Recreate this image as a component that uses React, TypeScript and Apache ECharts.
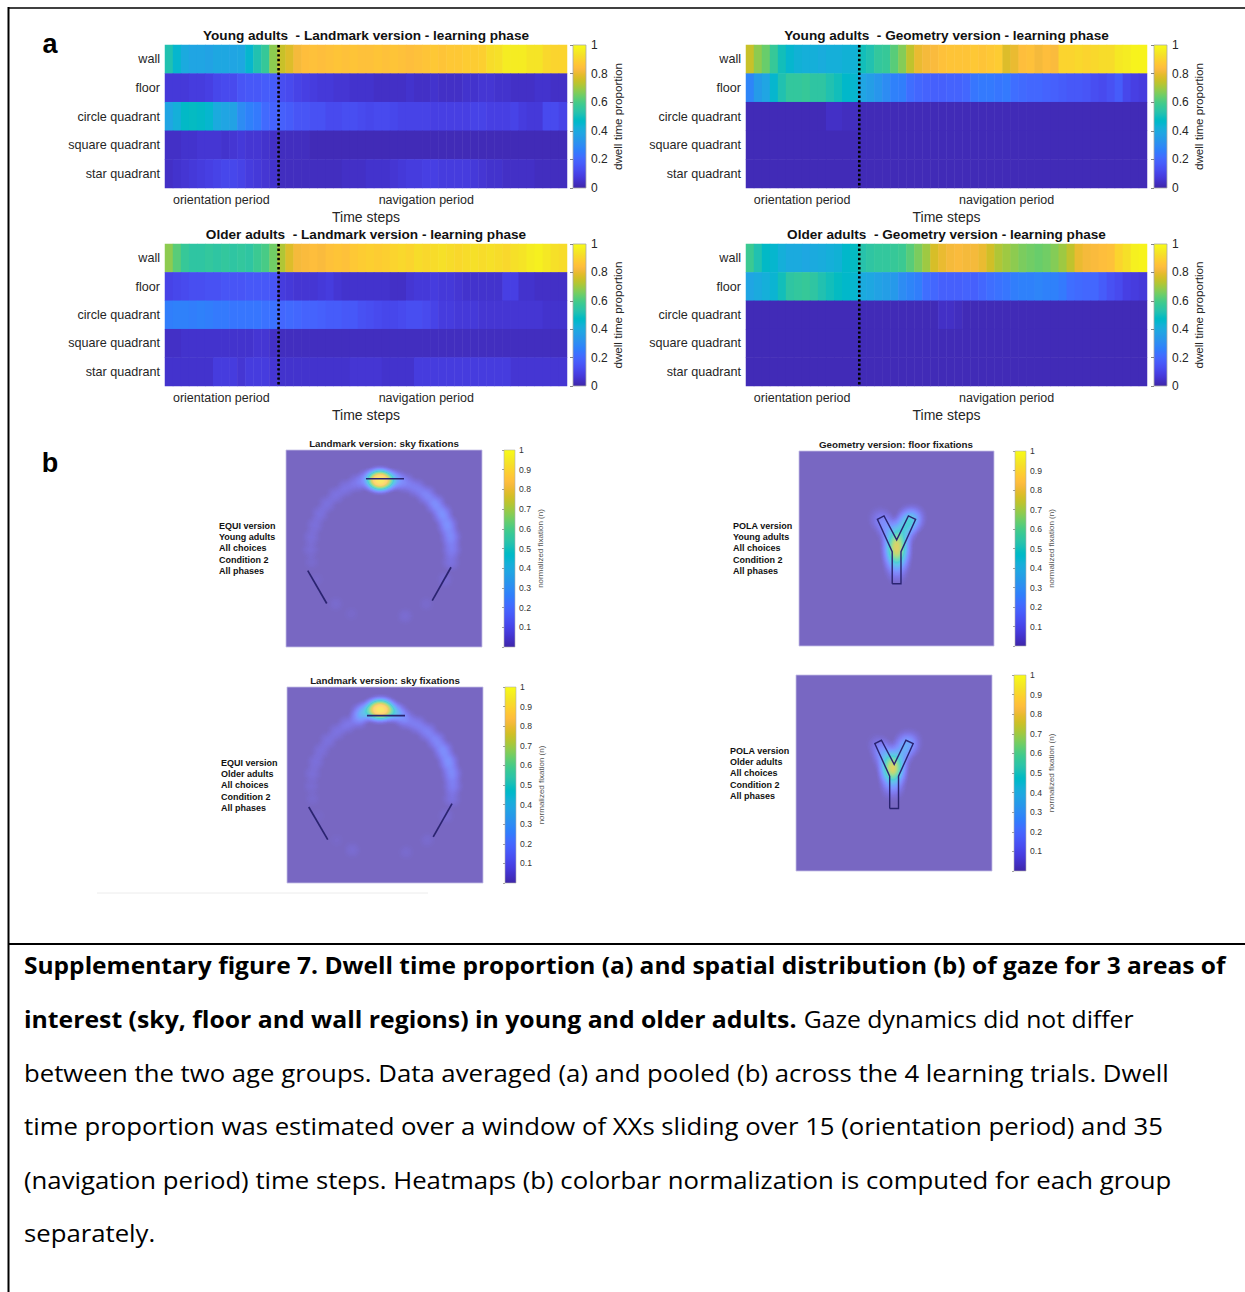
import React, { useEffect, useRef } from 'react';
import * as echarts from 'echarts';

// ---------------- DATA ----------------
const ROW_NAMES = ['wall', 'floor', 'circle quadrant', 'square quadrant', 'star quadrant'];
const ORIENT_STEPS = 14; // cells before the dashed separator
const TIME_STEPS = ['1','2','3','4','5','6','7','8','9','10','11','12','13','14','15','16','17','18','19','20','21','22','23','24','25','26','27','28','29','30','31','32','33','34','35','36','37','38','39','40','41','42','43','44','45','46','47','48','49','50'];

// Young adults - Landmark version
const ylWall = [0.52,0.45,0.40,0.38,0.38,0.37,0.39,0.39,0.38,0.39,0.45,0.52,0.57,0.68, 0.75,0.78,0.82,0.84,0.85,0.84,0.85,0.86,0.85,0.86, 0.85,0.85,0.86,0.85,0.86,0.85,0.84,0.85,0.86,0.87, 0.86,0.87,0.87,0.88,0.88,0.89,0.92,0.93,0.96,0.96,0.96,0.94,0.94,0.91,0.90,0.90];
const ylFloor = [0.07,0.07,0.07,0.08,0.08,0.09,0.11,0.12,0.12,0.15,0.16,0.16,0.17,0.17, 0.13,0.12,0.10,0.09,0.08,0.07,0.07,0.06,0.06,0.05, 0.05,0.05,0.04,0.04,0.04,0.04,0.05,0.04,0.04,0.05, 0.04,0.04,0.04,0.05,0.05,0.06,0.06,0.05,0.05,0.04, 0.04,0.04,0.05,0.05,0.04,0.04];
const ylCircle = [0.38,0.42,0.47,0.48,0.47,0.45,0.40,0.38,0.37,0.30,0.27,0.25,0.21,0.19, 0.18,0.17,0.15,0.15,0.14,0.14,0.12,0.12,0.13,0.13, 0.12,0.11,0.12,0.12,0.11,0.10,0.10,0.10,0.10,0.09, 0.09,0.09,0.09,0.09,0.10,0.10,0.09,0.09,0.09,0.10, 0.08,0.07,0.07,0.12,0.12,0.10];
const ylSquare = [0.04,0.04,0.05,0.05,0.06,0.06,0.06,0.05,0.06,0.07,0.06,0.06,0.05,0.04, 0.03,0.03,0.03,0.03,0.02,0.02,0.02,0.02,0.02,0.02, 0.02,0.02,0.02,0.02,0.02,0.02,0.02,0.02,0.02,0.02, 0.02,0.02,0.02,0.02,0.02,0.02,0.02,0.02,0.02,0.02, 0.02,0.02,0.02,0.02,0.02,0.02];
const ylStar = [0.04,0.05,0.06,0.07,0.08,0.09,0.10,0.11,0.11,0.10,0.08,0.07,0.06,0.05, 0.03,0.03,0.03,0.03,0.03,0.03,0.03,0.03,0.04,0.04, 0.04,0.05,0.05,0.05,0.06,0.07,0.08,0.08,0.09,0.09, 0.08,0.08,0.08,0.08,0.07,0.06,0.05,0.05,0.04,0.04, 0.04,0.04,0.03,0.03,0.03,0.03];

// Young adults - Geometry version
const ygWall = [0.75,0.68,0.64,0.57,0.50,0.45,0.43,0.42,0.42,0.41,0.42,0.42,0.43,0.43, 0.50,0.52,0.56,0.57,0.62,0.67,0.74,0.80,0.82,0.83, 0.85,0.86,0.86,0.86,0.87,0.86,0.87,0.88,0.78,0.80, 0.84,0.85,0.82,0.84,0.83,0.90,0.90,0.91,0.90,0.91, 0.92,0.92,0.95,0.96,0.98,0.98];
const ygFloor = [0.28,0.35,0.38,0.45,0.52,0.56,0.56,0.57,0.55,0.55,0.52,0.50,0.46,0.45, 0.38,0.36,0.33,0.30,0.27,0.26,0.22,0.20,0.19,0.18, 0.18,0.19,0.19,0.20,0.24,0.25,0.25,0.24,0.25,0.22, 0.21,0.20,0.20,0.19,0.18,0.17,0.16,0.16,0.15,0.13, 0.12,0.14,0.17,0.11,0.09,0.08];
const ygCircle = [0.02,0.02,0.02,0.02,0.02,0.02,0.02,0.02,0.02,0.02,0.04,0.04,0.03,0.03, 0.02,0.02,0.02,0.02,0.02,0.02,0.02,0.02,0.02,0.02, 0.02,0.02,0.02,0.02,0.02,0.02,0.02,0.02,0.02,0.02, 0.02,0.02,0.02,0.02,0.02,0.02,0.02,0.02,0.02,0.02, 0.02,0.02,0.02,0.02,0.02,0.02];
const ygSquare = [0.02,0.02,0.02,0.02,0.02,0.02,0.02,0.02,0.02,0.02,0.02,0.02,0.02,0.02, 0.02,0.02,0.02,0.02,0.02,0.02,0.02,0.02,0.02,0.02, 0.02,0.02,0.02,0.02,0.02,0.02,0.02,0.02,0.02,0.02, 0.02,0.02,0.02,0.02,0.02,0.02,0.02,0.02,0.02,0.02, 0.02,0.02,0.02,0.02,0.02,0.02];
const ygStar = [0.02,0.02,0.02,0.02,0.02,0.02,0.02,0.02,0.02,0.02,0.02,0.02,0.02,0.02, 0.02,0.02,0.02,0.02,0.02,0.02,0.02,0.02,0.02,0.02, 0.02,0.02,0.02,0.02,0.02,0.02,0.02,0.02,0.02,0.02, 0.02,0.02,0.02,0.02,0.02,0.02,0.02,0.02,0.02,0.02, 0.02,0.02,0.02,0.02,0.02,0.02];

// Older adults - Landmark version
const olWall = [0.68,0.62,0.57,0.55,0.55,0.56,0.55,0.56,0.55,0.56,0.55,0.58,0.60,0.65, 0.72,0.78,0.82,0.83,0.84,0.83,0.85,0.86,0.85,0.87, 0.88,0.89,0.88,0.89,0.90,0.91,0.90,0.92,0.91,0.92, 0.93,0.92,0.91,0.92,0.93,0.92,0.93,0.92,0.91,0.93, 0.94,0.96,0.97,0.95,0.93,0.92];
const olFloor = [0.10,0.11,0.12,0.13,0.13,0.14,0.14,0.15,0.15,0.15,0.16,0.16,0.16,0.15, 0.08,0.07,0.06,0.06,0.06,0.07,0.08,0.06,0.05,0.05, 0.05,0.05,0.05,0.05,0.04,0.04,0.06,0.07,0.07,0.08, 0.07,0.07,0.06,0.05,0.05,0.05,0.05,0.05,0.09,0.09, 0.05,0.05,0.04,0.04,0.04,0.04];
const olCircle = [0.26,0.27,0.27,0.26,0.27,0.26,0.25,0.25,0.24,0.24,0.24,0.24,0.23,0.23, 0.20,0.21,0.20,0.19,0.19,0.18,0.17,0.17,0.16,0.16, 0.14,0.13,0.12,0.11,0.11,0.12,0.13,0.13,0.12,0.10, 0.08,0.08,0.07,0.07,0.07,0.06,0.06,0.06,0.06,0.06, 0.06,0.06,0.06,0.05,0.05,0.05];
const olSquare = [0.04,0.04,0.05,0.05,0.05,0.05,0.05,0.05,0.05,0.05,0.05,0.06,0.06,0.04, 0.03,0.03,0.03,0.03,0.03,0.03,0.03,0.03,0.03,0.03, 0.03,0.03,0.03,0.03,0.03,0.03,0.03,0.03,0.03,0.03, 0.03,0.03,0.03,0.03,0.03,0.03,0.03,0.03,0.03,0.03, 0.03,0.03,0.03,0.03,0.03,0.03];
const olStar = [0.05,0.05,0.05,0.05,0.05,0.05,0.08,0.08,0.08,0.06,0.08,0.08,0.08,0.06, 0.05,0.05,0.05,0.05,0.05,0.05,0.05,0.05,0.05,0.06, 0.06,0.06,0.06,0.05,0.05,0.05,0.05,0.08,0.08,0.08, 0.08,0.08,0.08,0.08,0.08,0.08,0.08,0.08,0.08,0.06, 0.06,0.06,0.06,0.06,0.06,0.06];

// Older adults - Geometry version
const ogWall = [0.58,0.52,0.47,0.45,0.42,0.40,0.40,0.39,0.40,0.41,0.42,0.43,0.46,0.48, 0.53,0.55,0.56,0.56,0.57,0.58,0.62,0.66,0.70,0.77, 0.80,0.82,0.83,0.82,0.82,0.80,0.76,0.72,0.70,0.68, 0.66,0.65,0.64,0.65,0.67,0.70,0.74,0.80,0.82,0.83, 0.84,0.85,0.90,0.93,0.97,0.98];
const ogFloor = [0.38,0.40,0.42,0.44,0.50,0.55,0.56,0.57,0.55,0.52,0.50,0.48,0.46,0.45, 0.40,0.39,0.37,0.36,0.34,0.30,0.28,0.26,0.22,0.20, 0.18,0.18,0.18,0.19,0.18,0.20,0.22,0.23,0.24,0.26, 0.27,0.27,0.28,0.27,0.27,0.25,0.22,0.21,0.20,0.20, 0.17,0.14,0.12,0.09,0.08,0.07];
const ogCircle = [0.02,0.02,0.02,0.02,0.02,0.02,0.02,0.02,0.02,0.02,0.02,0.02,0.02,0.02, 0.02,0.02,0.02,0.02,0.02,0.02,0.02,0.02,0.02,0.02, 0.04,0.04,0.03,0.02,0.02,0.02,0.02,0.02,0.02,0.02, 0.02,0.02,0.02,0.02,0.02,0.02,0.02,0.02,0.02,0.02, 0.02,0.02,0.02,0.02,0.02,0.02];
const ogSquare = [0.02,0.02,0.02,0.02,0.02,0.02,0.02,0.02,0.02,0.02,0.02,0.02,0.02,0.02, 0.02,0.02,0.02,0.02,0.02,0.02,0.02,0.02,0.02,0.02, 0.02,0.02,0.02,0.02,0.02,0.02,0.02,0.02,0.02,0.02, 0.02,0.02,0.02,0.02,0.02,0.02,0.02,0.02,0.02,0.02, 0.02,0.02,0.02,0.02,0.02,0.02];
const ogStar = [0.02,0.02,0.02,0.02,0.02,0.02,0.02,0.02,0.02,0.02,0.02,0.02,0.02,0.02, 0.02,0.02,0.02,0.02,0.02,0.02,0.02,0.02,0.02,0.02, 0.02,0.02,0.02,0.02,0.02,0.02,0.02,0.02,0.02,0.02, 0.02,0.02,0.02,0.02,0.02,0.02,0.02,0.02,0.02,0.02, 0.02,0.02,0.02,0.02,0.02,0.02];

const PANEL_A_TITLES = [
  'Young adults  - Landmark version - learning phase',
  'Young adults  - Geometry version - learning phase',
  'Older adults  - Landmark version - learning phase',
  'Older adults  - Geometry version - learning phase',
];
const PANEL_A_ROWS = [
  [ylWall, ylFloor, ylCircle, ylSquare, ylStar],
  [ygWall, ygFloor, ygCircle, ygSquare, ygStar],
  [olWall, olFloor, olCircle, olSquare, olStar],
  [ogWall, ogFloor, ogCircle, ogSquare, ogStar],
];

// Panel b: fixation hotspots [x %, y % (from top), intensity]
const skyYoung = [
  [44.5,15.3,1],[46.2,15.3,1],[47.9,15.3,1],[49.6,15.3,1],[51.3,15.3,1],[53.0,15.3,0.8],
  [46.2,14.1,1],[47.9,14.1,1],[49.6,14.1,1],[46.2,16.5,1],[47.9,16.5,1],[49.6,16.5,1],
  [41.5,15.0,0.6],[56.0,15.2,0.6],
  [60.8,16.7,0.4],[36.2,16.7,0.3],[66.5,19.3,0.35],[30.5,19.3,0.22],
  [71.6,22.9,0.45],[25.4,22.9,0.2],[76.1,27.4,0.55],[20.9,27.4,0.18],[79.7,32.5,0.6],[17.3,32.5,0.18],
  [82.3,38.2,0.6],[14.7,38.2,0.16],[84.0,44.2,0.5],[13.0,44.2,0.15],[84.5,50.5,0.35],[12.5,50.5,0.12],
  [84.0,56.8,0.2],[13.0,56.8,0.08],[81.1,65.7,0.1],[15.9,65.7,0.05],[71.6,78.1,0.07],[25.4,78.1,0.08],
  [60.8,84.3,0.1],[33.3,83.1,0.06],
];
const skyOlder = [
  [43.5,11.5,1],[45.5,11.5,1],[47.5,11.5,1],[49.5,11.5,1],[51.5,11.5,1],
  [45.5,10.2,1],[47.5,10.2,1],[49.5,10.2,1],[45.5,12.8,1],[47.5,12.8,1],[49.5,12.8,1],
  [40.5,12.5,0.8],[54.0,12.5,0.8],[37.5,13.5,0.6],[57.0,13.8,0.6],
  [60.8,16.7,0.4],[36.2,16.7,0.35],[66.5,19.3,0.35],[30.5,19.3,0.25],
  [71.6,22.9,0.4],[25.4,22.9,0.2],[76.1,27.4,0.45],[20.9,27.4,0.18],[79.7,32.5,0.55],[17.3,32.5,0.16],
  [82.3,38.2,0.6],[14.7,38.2,0.16],[84.0,44.2,0.5],[13.0,44.2,0.14],[84.5,50.5,0.35],[12.5,50.5,0.1],
  [84.0,56.8,0.2],[13.0,56.8,0.08],[81.1,65.7,0.1],[15.9,65.7,0.05],[71.6,78.1,0.08],[25.4,78.1,0.05],
  [60.8,84.3,0.08],[33.3,83.1,0.1],
];
const floorYoung = [
  [50.1,46.0,1],[50.1,48.5,1],[50.1,51.0,1],[50.1,53.5,0.8],[50.1,56.0,0.55],[50.1,59.0,0.3],[50.1,62.0,0.14],[50.1,65.0,0.05],
  [52.5,42.0,0.6],[54.4,39.0,0.5],[56.2,36.5,0.55],[57.8,34.4,0.65],
  [47.5,42.0,0.4],[45.5,39.0,0.22],[43.0,36.5,0.18],[41.5,34.4,0.15],
];
const floorOlder = [
  [49.3,46.0,1],[49.3,48.0,1],[49.3,50.0,0.8],[49.3,53.0,0.45],[49.3,56.0,0.25],[49.3,59.0,0.12],
  [51.5,43.0,0.45],[53.5,40.0,0.3],[55.5,37.0,0.35],[57.3,34.5,0.45],
  [47.0,43.0,0.5],[45.0,40.0,0.35],[43.0,37.0,0.15],[41.5,35.0,0.08],
];
const LANDMARK_BARS = [
  [[40.8,14.6],[60.2,14.6]],
  [[11.1,61.2],[20.8,77.9]],
  [[84.2,59.5],[74.6,76.5]],
];
const Y_OUTLINE = [[47.8,68.1],[52.3,68.1],[52.3,51.6],[59.8,35.0],[56.1,33.3],[50.1,45.6],[43.6,33.3],[40.2,35.0],[47.8,51.6],[47.8,68.1]];

const PANEL_B_TITLES = ['Landmark version: sky fixations', 'Geometry version: floor fixations', 'Landmark version: sky fixations', ''];
const PANEL_B_NOTES = [
  ['EQUI version','Young adults','All choices','Condition 2','All phases'],
  ['POLA version','Young adults','All choices','Condition 2','All phases'],
  ['EQUI version','Older adults','All choices','Condition 2','All phases'],
  ['POLA version','Older adults','All choices','Condition 2','All phases'],
];
const PANEL_B_HEAT = [skyYoung, floorYoung, skyOlder, floorOlder];
const PANEL_B_SHAPES = [LANDMARK_BARS, [Y_OUTLINE], LANDMARK_BARS, [Y_OUTLINE]];

const CAPTION_1 = 'Supplementary figure 7. Dwell time proportion (a) and spatial distribution (b) of gaze for 3 areas of';
const CAPTION_2B = 'interest (sky, floor and wall regions) in young and older adults.';
const CAPTION_2N = ' Gaze dynamics did not differ';
const CAPTION_REST = [
  'between the two age groups. Data averaged (a) and pooled (b) across the 4 learning trials. Dwell',
  'time proportion was estimated over a window of XXs sliding over 15 (orientation period) and 35',
  '(navigation period) time steps. Heatmaps (b) colorbar normalization is computed for each group',
  'separately.',
];

// ---------------- STYLE / LAYOUT ----------------
const PARULA = ['#3E26A8','#402AB4','#422EC0','#4332CB','#4537D5','#463CDE','#4741E5','#4747EB','#484DF0','#4852F4','#4758F8','#465EFB','#4563FD','#4269FE','#3E6FFF','#3875FE','#327CFC','#2F81FA','#2E87F7','#2D8CF3','#2B91EF','#2797EB','#259BE8','#23A0E5','#20A5E3','#1CA9DF','#18ADDB','#12B1D6','#08B5D0','#01B8CA','#02BAC3','#0BBDBD','#19BFB6','#24C1AE','#2CC4A7','#31C69F','#37C897','#3FCA8E','#4ACB84','#57CC7A','#64CD6F','#72CD64','#81CC59','#8FCB4E','#9DC943','#ABC739','#B9C431','#C5C22A','#D1BF27','#DCBD29','#E6BB2D','#F0BA36','#F8BA3D','#FEBE3C','#FEC338','#FEC934','#FCCF30','#FAD62D','#F7DC2A','#F5E327','#F5E924','#F6EF20','#F7F51B','#F9FB15'];
function blendWhite(hex: string, a: number) {
  const n = parseInt(hex.slice(1), 16);
  const f = (c: number) => Math.round(c * a + 255 * (1 - a));
  return `rgb(${f((n >> 16) & 255)},${f((n >> 8) & 255)},${f(n & 255)})`;
}
const PARULA_LIGHT = PARULA.map((c) => blendWhite(c, 0.7));

const FONT = '"Liberation Sans", Arial, Helvetica, sans-serif';
const CAP_FONT = '"Open Sans", "Noto Sans", sans-serif';
const TXT = '#262626';

const HEAT_BOXES = [
  { left: 165, top: 45, width: 402, height: 143 },
  { left: 746, top: 45, width: 401, height: 143 },
  { left: 165, top: 244, width: 402, height: 142 },
  { left: 746, top: 244, width: 401, height: 142 },
];
const CBAR_A_BOXES = [
  { left: 573, top: 45, width: 13, height: 143 },
  { left: 1154, top: 45, width: 13, height: 143 },
  { left: 573, top: 244, width: 13, height: 142 },
  { left: 1154, top: 244, width: 13, height: 142 },
];
const GEO_BOXES = [
  { left: 286, top: 450, width: 196, height: 197 },
  { left: 799, top: 451, width: 195, height: 195 },
  { left: 287, top: 687, width: 196, height: 196 },
  { left: 796, top: 675, width: 196, height: 196 },
];
const CBAR_B_BOXES = [
  { left: 504, top: 450, width: 11, height: 197 },
  { left: 1015, top: 451, width: 11, height: 195 },
  { left: 505, top: 687, width: 11, height: 196 },
  { left: 1014, top: 675, width: 12, height: 196 },
];
const PANEL_B_TITLE_POS = [[384, 443], [896, 444], [385, 680], [894, 668]];
const PANEL_B_NOTE_POS = [[219, 520], [733, 520], [221, 757], [730, 745]];
const HEAT_STYLE = [
  { pointSize: 4, blurSize: 10 },
  { pointSize: 6, blurSize: 12 },
  { pointSize: 4, blurSize: 10 },
  { pointSize: 6, blurSize: 12 },
];

const ARENA: any = {
  type: 'FeatureCollection',
  features: [{ type: 'Feature', properties: { name: 'arena' }, geometry: { type: 'Polygon', coordinates: [[[0, 0], [100, 0], [100, 100], [0, 100], [0, 0]]] } }],
};

function gradientFill() {
  return new echarts.graphic.LinearGradient(0, 1, 0, 0, PARULA.map((c, i) => ({ offset: i / (PARULA.length - 1), color: c })));
}

function txt(x: number, y: number, text: string, extra: any = {}, el: any = {}) {
  return { type: 'text', x, y, silent: true, ...el, style: { text, fontFamily: FONT, fontSize: 12, fill: TXT, align: 'center', verticalAlign: 'middle', ...extra } };
}
function hline(x1: number, y1: number, x2: number, y2: number, w: number, color = '#000') {
  return { type: 'line', silent: true, shape: { x1, y1, x2, y2 }, style: { stroke: color, lineWidth: w } };
}

function buildOption() {
  const grid: any[] = [];
  const xAxis: any[] = [];
  const yAxis: any[] = [];
  const series: any[] = [];
  const graphic: any[] = [];
  const heatIdx: number[] = [];
  const geoHeatIdx: number[] = [];

  // ---- panel a heatmaps
  PANEL_A_ROWS.forEach((rows, i) => {
    const box = HEAT_BOXES[i];
    const gi = grid.length;
    grid.push({ ...box, outerBoundsMode: 'none', containLabel: false });
    xAxis.push({
      type: 'category', gridIndex: gi, data: TIME_STEPS,
      axisLine: { show: false }, axisTick: { show: false }, axisLabel: { show: false }, splitLine: { show: false },
      name: 'Time steps', nameLocation: 'middle', nameGap: 22,
      nameTextStyle: { fontSize: 14, color: TXT, fontFamily: FONT },
    });
    yAxis.push({
      type: 'category', gridIndex: gi, data: ROW_NAMES, inverse: true,
      axisLine: { show: false }, axisTick: { show: false }, splitLine: { show: false },
      axisLabel: { fontSize: 12.6, color: TXT, fontFamily: FONT, margin: 5 },
    });
    const data: number[][] = [];
    rows.forEach((row, r) => row.forEach((v, c) => data.push([c, r, v])));
    heatIdx.push(series.length);
    series.push({ type: 'heatmap', xAxisIndex: gi, yAxisIndex: gi, data, silent: true, emphasis: { disabled: true }, progressive: 0 });
    series.push({
      type: 'custom', xAxisIndex: gi, yAxisIndex: gi, silent: true, z: 5, clip: false,
      data: [[ORIENT_STEPS - 1, 0]],
      renderItem: (params: any, api: any) => {
        const p = api.coord([api.value(0), api.value(1)]);
        const w = api.size([1, 0])[0];
        const cs = params.coordSys;
        const x = p[0] + w / 2 + 1;
        return { type: 'line', shape: { x1: x, y1: cs.y, x2: x, y2: cs.y + cs.height }, style: { stroke: '#000', lineWidth: 2.6, lineDash: [2.4, 2.2] } };
      },
    });
    graphic.push(txt(box.left + box.width / 2, box.top - 10, PANEL_A_TITLES[i], { fontWeight: 'bold', fontSize: 13.6, fill: '#111' }));
    const lineX = box.left + (box.width * ORIENT_STEPS) / TIME_STEPS.length;
    graphic.push(txt((box.left + lineX) / 2, box.top + box.height + 12, 'orientation period', { fontSize: 12.5 }));
    graphic.push(txt((lineX + box.left + box.width) / 2 + 4, box.top + box.height + 12, 'navigation period', { fontSize: 12.5 }));
  });

  // ---- panel a colorbars
  CBAR_A_BOXES.forEach((box) => {
    const gi = grid.length;
    grid.push({ ...box, outerBoundsMode: 'none', containLabel: false });
    xAxis.push({ type: 'value', gridIndex: gi, min: 0, max: 1, show: false });
    yAxis.push({
      type: 'value', gridIndex: gi, min: 0, max: 1, interval: 0.2, position: 'right', z: 5,
      axisLine: { show: false }, splitLine: { show: false },
      axisTick: { show: true, inside: true, length: 3, lineStyle: { color: '#666', width: 0.8 } },
      axisLabel: { fontSize: 12, color: TXT, fontFamily: FONT, margin: 5, formatter: (v: number) => String(+v.toFixed(1)) },
      name: 'dwell time proportion', nameLocation: 'middle', nameGap: 25, nameRotate: 90,
      nameTextStyle: { fontSize: 11.6, color: TXT, fontFamily: FONT },
    });
    series.push({
      type: 'custom', xAxisIndex: gi, yAxisIndex: gi, silent: true, z: 1, data: [[0.5, 0.5]],
      renderItem: (params: any, api: any) => {
        const cs = params.coordSys;
        const top = api.coord([0, 1])[1];
        const bottom = api.coord([0, 0])[1];
        return { type: 'rect', shape: { x: cs.x, y: top, width: cs.width, height: bottom - top }, style: { fill: gradientFill(), stroke: '#a9a9a9', lineWidth: 0.8 } };
      },
    });
  });

  // ---- panel b colorbars
  CBAR_B_BOXES.forEach((box) => {
    const gi = grid.length;
    grid.push({ ...box, outerBoundsMode: 'none', containLabel: false });
    xAxis.push({ type: 'value', gridIndex: gi, min: 0, max: 1, show: false });
    yAxis.push({
      type: 'value', gridIndex: gi, min: 0, max: 1, interval: 0.1, position: 'right', z: 5,
      axisLine: { show: false }, splitLine: { show: false },
      axisTick: { show: true, inside: true, length: 2, lineStyle: { color: '#666', width: 0.6 } },
      axisLabel: { fontSize: 8.6, color: '#333', fontFamily: FONT, margin: 4, formatter: (v: number) => (v === 0 ? '' : String(+v.toFixed(1))) },
      name: 'normalized fixation (n)', nameLocation: 'middle', nameGap: 21, nameRotate: 90,
      nameTextStyle: { fontSize: 8, color: '#555', fontFamily: FONT },
    });
    series.push({
      type: 'custom', xAxisIndex: gi, yAxisIndex: gi, silent: true, z: 1, data: [[0.5, 0.5]],
      renderItem: (params: any, api: any) => {
        const cs = params.coordSys;
        const top = api.coord([0, 1])[1];
        const bottom = api.coord([0, 0])[1];
        return { type: 'rect', shape: { x: cs.x, y: top, width: cs.width, height: bottom - top }, style: { fill: gradientFill(), stroke: '#b0b0b0', lineWidth: 0.6 } };
      },
    });
  });

  // ---- panel b density maps
  const geo = GEO_BOXES.map((b) => ({
    map: 'arena', ...b, roam: false, silent: true, aspectScale: 1,
    label: { show: false }, emphasis: { disabled: true }, select: { disabled: true },
    itemStyle: { areaColor: PARULA_LIGHT[0], borderColor: '#c4bfe6', borderWidth: 0.8 },
  }));
  PANEL_B_HEAT.forEach((pts, k) => {
    geoHeatIdx.push(series.length);
    series.push({
      type: 'heatmap', coordinateSystem: 'geo', geoIndex: k, silent: true,
      ...HEAT_STYLE[k], minOpacity: 1, maxOpacity: 1,
      data: pts.map((p) => [p[0], 100 - p[1], p[2]]),
    });
    series.push({
      type: 'lines', coordinateSystem: 'geo', geoIndex: k, polyline: true, silent: true, z: 4,
      lineStyle: { color: '#2a2370', width: k % 2 === 0 ? 1.7 : 1.4, opacity: 1 },
      data: PANEL_B_SHAPES[k].map((s) => ({ coords: s.map((q) => [q[0], 100 - q[1]]) })),
    });
    if (PANEL_B_TITLES[k]) {
      const tp = PANEL_B_TITLE_POS[k];
      graphic.push(txt(tp[0], tp[1], PANEL_B_TITLES[k], { fontWeight: 'bold', fontSize: 9.8, fill: '#1a1a1a' }));
    }
    const np = PANEL_B_NOTE_POS[k];
    graphic.push(txt(np[0], np[1], PANEL_B_NOTES[k].join('\n'), { fontWeight: 'bold', fontSize: 9, fill: '#111', align: 'left', verticalAlign: 'top', lineHeight: 11.3 }));
  });

  // ---- panel letters, frame, caption
  graphic.push(txt(50, 44, 'a', { fontWeight: 'bold', fontSize: 27, fill: '#000' }));
  graphic.push(txt(50, 463, 'b', { fontWeight: 'bold', fontSize: 27, fill: '#000' }));
  graphic.push(hline(8, 8, 1245, 8, 1.5));
  graphic.push(hline(8.5, 7, 8.5, 1292, 2));
  graphic.push(hline(8, 944, 1245, 944, 2));
  graphic.push(hline(97, 893, 428, 893, 1, '#ececec'));

  const capStyle = { fontFamily: CAP_FONT, fontSize: 24, fill: '#000', align: 'left', verticalAlign: 'middle' };
  graphic.push(txt(24, 965, CAPTION_1, { ...capStyle, fontWeight: 'bold' }, { scaleX: 1.022 }));
  graphic.push(txt(24, 1019, `{b|${CAPTION_2B}}{n|${CAPTION_2N}}`, {
    ...capStyle,
    rich: {
      b: { fontFamily: CAP_FONT, fontSize: 24, fontWeight: 'bold', fill: '#000' },
      n: { fontFamily: CAP_FONT, fontSize: 24, fontWeight: 'normal', fill: '#000' },
    },
  }, { scaleX: 1.033 }));
  CAPTION_REST.forEach((line, i) => {
    graphic.push(txt(24, 1072 + i * 53.6, line, capStyle, { scaleX: 1.072 }));
  });

  return {
    animation: false,
    backgroundColor: '#ffffff',
    grid, xAxis, yAxis, geo, series, graphic,
    visualMap: [
      { type: 'continuous', show: false, min: 0, max: 1, dimension: 2, seriesIndex: heatIdx, inRange: { color: PARULA } },
      { type: 'continuous', show: false, min: 0, max: 1, dimension: 2, seriesIndex: geoHeatIdx, inRange: { color: PARULA_LIGHT } },
    ],
  };
}

export default function App() {
  const ref = useRef<HTMLDivElement>(null);
  useEffect(() => {
    if (!ref.current) return;
    echarts.registerMap('arena', ARENA);
    const chart = echarts.init(ref.current, undefined, { renderer: 'svg', width: 1245, height: 1292 });
    chart.setOption(buildOption() as any);
    return () => chart.dispose();
  }, []);
  return <div ref={ref} style={{ position: 'absolute', left: 0, top: 0, width: 1245, height: 1292, background: '#fff' }} />;
}
